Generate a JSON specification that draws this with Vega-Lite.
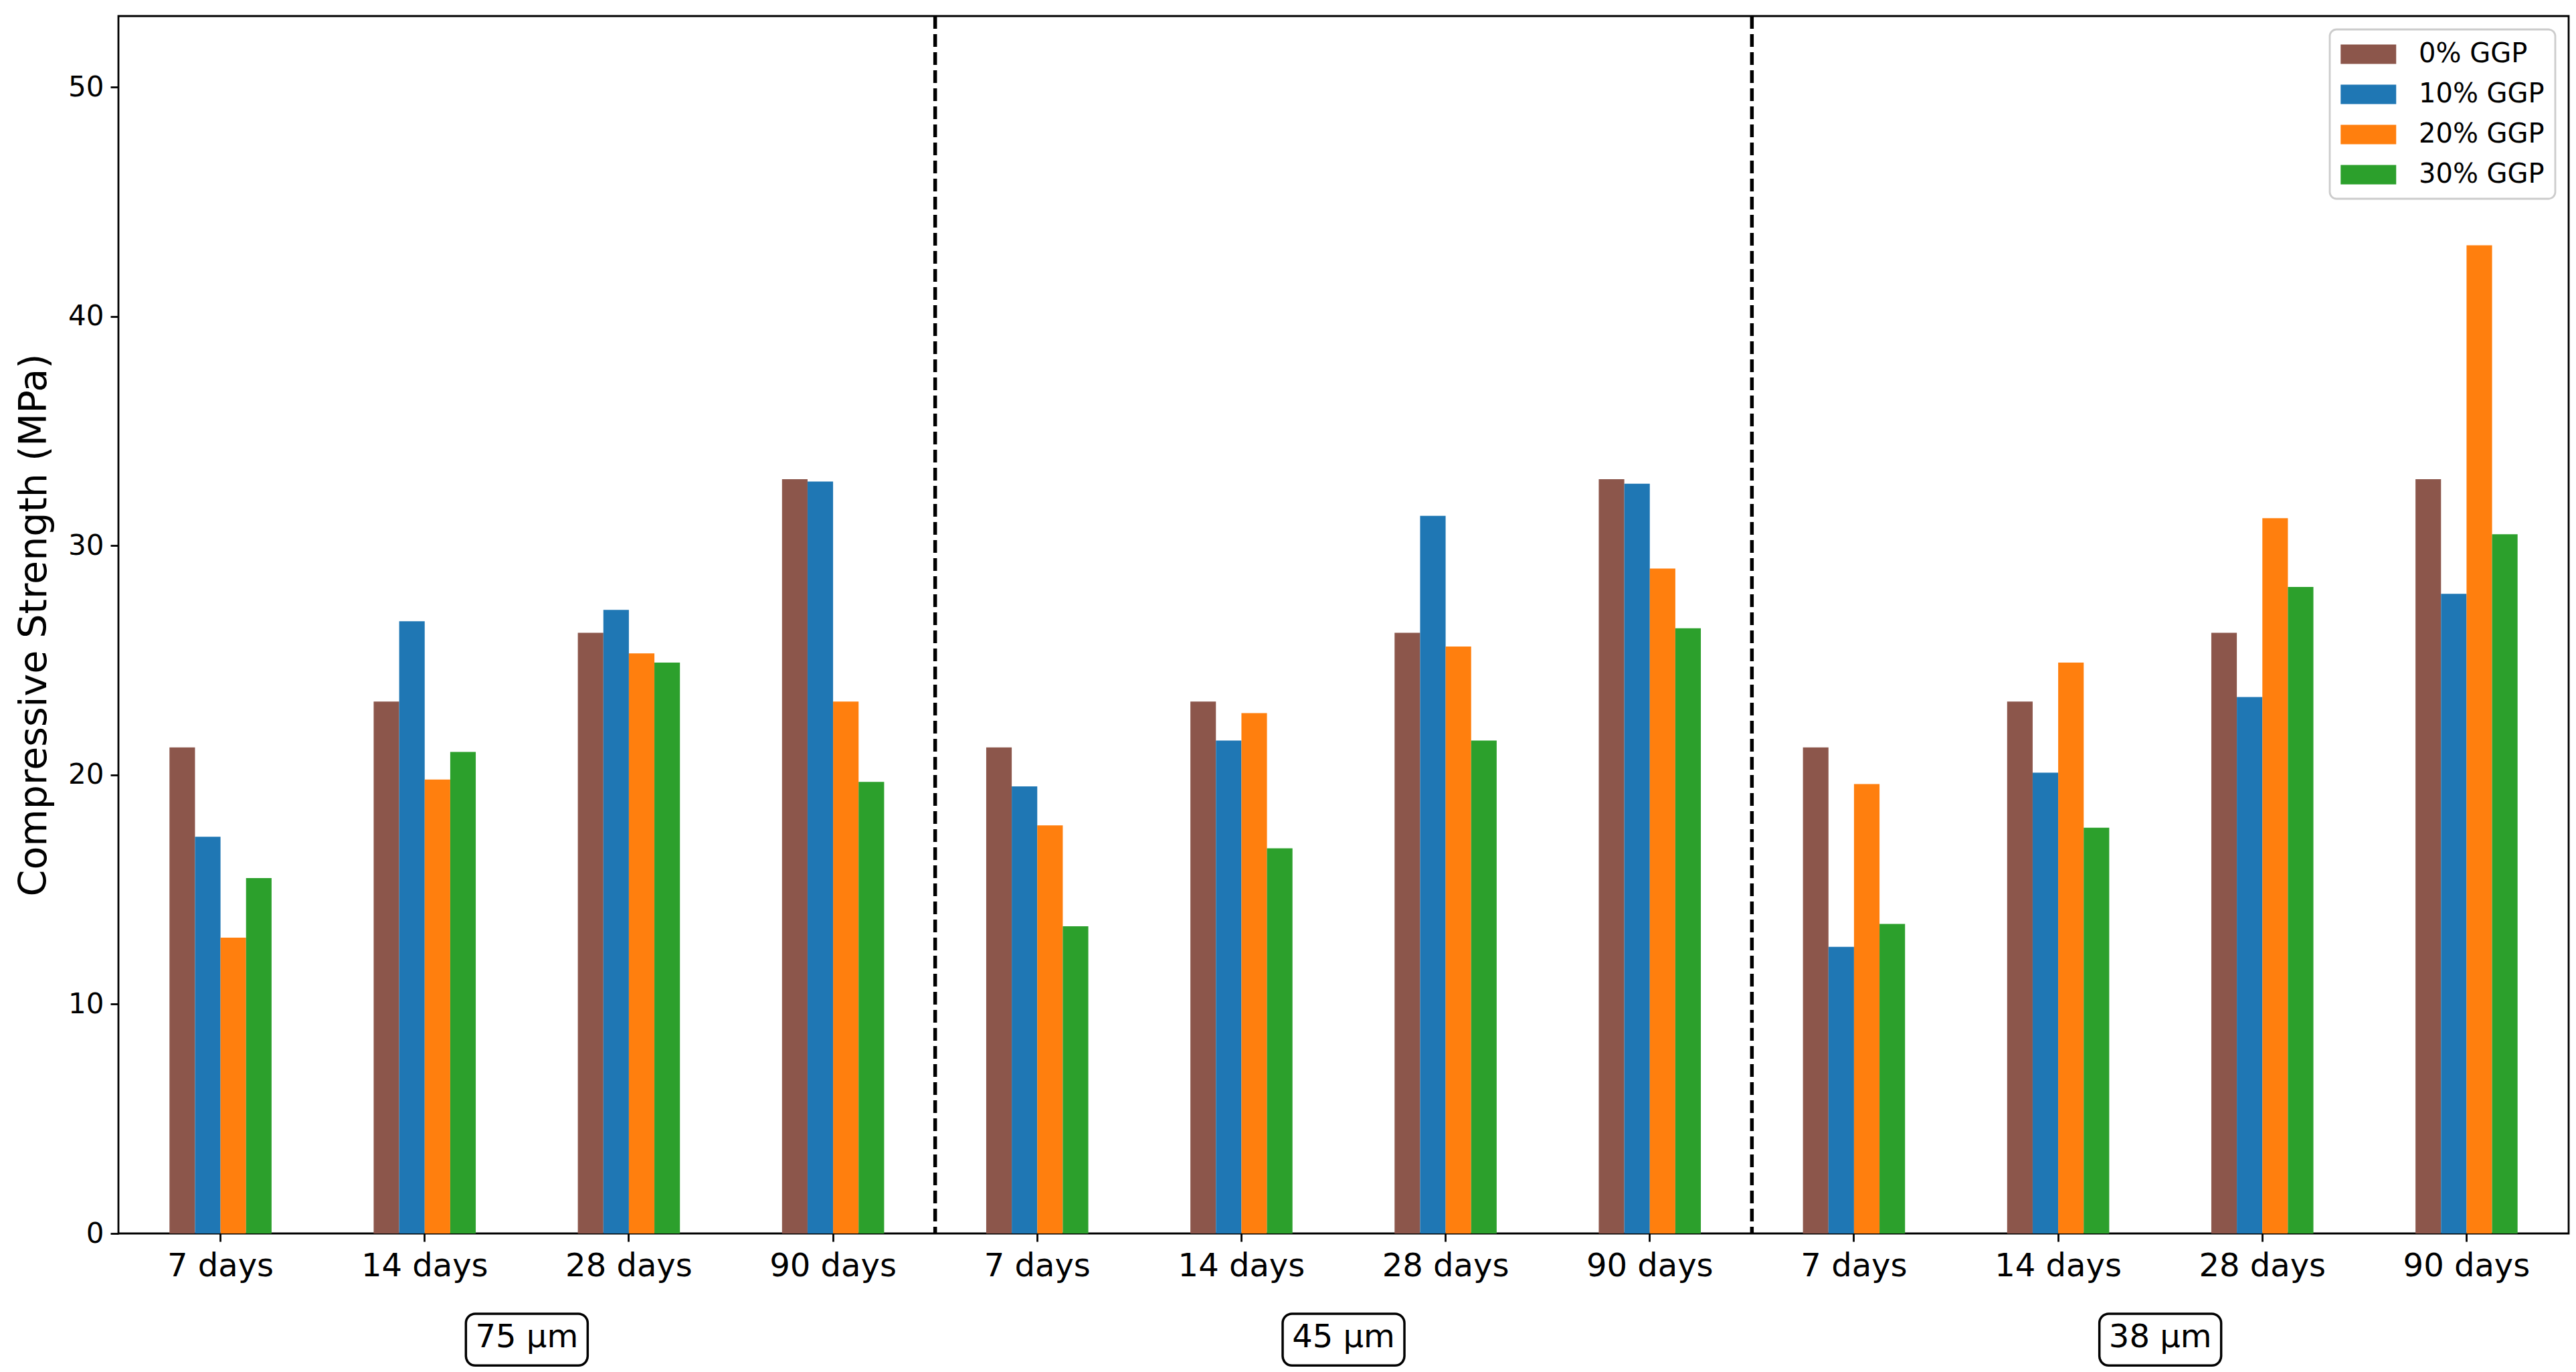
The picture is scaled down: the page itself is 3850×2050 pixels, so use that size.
{
  "$schema": "https://vega.github.io/schema/vega-lite/v6.json",
  "autosize": {"type": "none"},
  "width": 3662,
  "height": 1819,
  "padding": {"left": 177, "top": 24, "right": 11, "bottom": 207},
  "background": "white",
  "datasets": {
    "strength": [
      {"size": "75 µm", "age": "7 days", "ggp": "0% GGP", "strength": 21.2},
      {"size": "75 µm", "age": "7 days", "ggp": "10% GGP", "strength": 17.3},
      {"size": "75 µm", "age": "7 days", "ggp": "20% GGP", "strength": 12.9},
      {"size": "75 µm", "age": "7 days", "ggp": "30% GGP", "strength": 15.5},
      {"size": "75 µm", "age": "14 days", "ggp": "0% GGP", "strength": 23.2},
      {"size": "75 µm", "age": "14 days", "ggp": "10% GGP", "strength": 26.7},
      {"size": "75 µm", "age": "14 days", "ggp": "20% GGP", "strength": 19.8},
      {"size": "75 µm", "age": "14 days", "ggp": "30% GGP", "strength": 21.0},
      {"size": "75 µm", "age": "28 days", "ggp": "0% GGP", "strength": 26.2},
      {"size": "75 µm", "age": "28 days", "ggp": "10% GGP", "strength": 27.2},
      {"size": "75 µm", "age": "28 days", "ggp": "20% GGP", "strength": 25.3},
      {"size": "75 µm", "age": "28 days", "ggp": "30% GGP", "strength": 24.9},
      {"size": "75 µm", "age": "90 days", "ggp": "0% GGP", "strength": 32.9},
      {"size": "75 µm", "age": "90 days", "ggp": "10% GGP", "strength": 32.8},
      {"size": "75 µm", "age": "90 days", "ggp": "20% GGP", "strength": 23.2},
      {"size": "75 µm", "age": "90 days", "ggp": "30% GGP", "strength": 19.7},
      {"size": "45 µm", "age": "7 days", "ggp": "0% GGP", "strength": 21.2},
      {"size": "45 µm", "age": "7 days", "ggp": "10% GGP", "strength": 19.5},
      {"size": "45 µm", "age": "7 days", "ggp": "20% GGP", "strength": 17.8},
      {"size": "45 µm", "age": "7 days", "ggp": "30% GGP", "strength": 13.4},
      {"size": "45 µm", "age": "14 days", "ggp": "0% GGP", "strength": 23.2},
      {"size": "45 µm", "age": "14 days", "ggp": "10% GGP", "strength": 21.5},
      {"size": "45 µm", "age": "14 days", "ggp": "20% GGP", "strength": 22.7},
      {"size": "45 µm", "age": "14 days", "ggp": "30% GGP", "strength": 16.8},
      {"size": "45 µm", "age": "28 days", "ggp": "0% GGP", "strength": 26.2},
      {"size": "45 µm", "age": "28 days", "ggp": "10% GGP", "strength": 31.3},
      {"size": "45 µm", "age": "28 days", "ggp": "20% GGP", "strength": 25.6},
      {"size": "45 µm", "age": "28 days", "ggp": "30% GGP", "strength": 21.5},
      {"size": "45 µm", "age": "90 days", "ggp": "0% GGP", "strength": 32.9},
      {"size": "45 µm", "age": "90 days", "ggp": "10% GGP", "strength": 32.7},
      {"size": "45 µm", "age": "90 days", "ggp": "20% GGP", "strength": 29.0},
      {"size": "45 µm", "age": "90 days", "ggp": "30% GGP", "strength": 26.4},
      {"size": "38 µm", "age": "7 days", "ggp": "0% GGP", "strength": 21.2},
      {"size": "38 µm", "age": "7 days", "ggp": "10% GGP", "strength": 12.5},
      {"size": "38 µm", "age": "7 days", "ggp": "20% GGP", "strength": 19.6},
      {"size": "38 µm", "age": "7 days", "ggp": "30% GGP", "strength": 13.5},
      {"size": "38 µm", "age": "14 days", "ggp": "0% GGP", "strength": 23.2},
      {"size": "38 µm", "age": "14 days", "ggp": "10% GGP", "strength": 20.1},
      {"size": "38 µm", "age": "14 days", "ggp": "20% GGP", "strength": 24.9},
      {"size": "38 µm", "age": "14 days", "ggp": "30% GGP", "strength": 17.7},
      {"size": "38 µm", "age": "28 days", "ggp": "0% GGP", "strength": 26.2},
      {"size": "38 µm", "age": "28 days", "ggp": "10% GGP", "strength": 23.4},
      {"size": "38 µm", "age": "28 days", "ggp": "20% GGP", "strength": 31.2},
      {"size": "38 µm", "age": "28 days", "ggp": "30% GGP", "strength": 28.2},
      {"size": "38 µm", "age": "90 days", "ggp": "0% GGP", "strength": 32.9},
      {"size": "38 µm", "age": "90 days", "ggp": "10% GGP", "strength": 27.9},
      {"size": "38 µm", "age": "90 days", "ggp": "20% GGP", "strength": 43.1},
      {"size": "38 µm", "age": "90 days", "ggp": "30% GGP", "strength": 30.5}
    ],
    "sizes": [
      {"size": "75 µm"},
      {"size": "45 µm"},
      {"size": "38 µm"}
    ]
  },
  "layer": [
    {
      "data": {"name": "strength"},
      "transform": [{"calculate": "datum.size + '|' + datum.age", "as": "slot"}],
      "mark": {"type": "bar"},
      "encoding": {
        "x": {
          "field": "slot",
          "type": "nominal",
          "sort": [
            "75 µm|7 days", "75 µm|14 days", "75 µm|28 days", "75 µm|90 days",
            "45 µm|7 days", "45 µm|14 days", "45 µm|28 days", "45 µm|90 days",
            "38 µm|7 days", "38 µm|14 days", "38 µm|28 days", "38 µm|90 days"
          ],
          "scale": {"paddingInner": 0.5, "paddingOuter": 0.25},
          "title": null,
          "axis": {
            "labelExpr": "split(datum.label, '|')[1]",
            "labelAngle": 0,
            "labelFontSize": 48,
            "labelLimit": 500,
            "bandPosition": 0.5,
            "labelPadding": 13
          }
        },
        "xOffset": {
          "field": "ggp",
          "type": "nominal",
          "sort": ["0% GGP", "10% GGP", "20% GGP", "30% GGP"],
          "scale": {"paddingInner": 0, "paddingOuter": 0}
        },
        "y": {
          "field": "strength",
          "type": "quantitative",
          "scale": {"domain": [0, 53.1], "nice": false},
          "title": "Compressive Strength (MPa)",
          "axis": {
            "values": [0, 10, 20, 30, 40, 50],
            "labelFontSize": 42,
            "titleFontSize": 57,
            "titlePadding": 21
          }
        },
        "color": {
          "field": "ggp",
          "type": "nominal",
          "sort": ["0% GGP", "10% GGP", "20% GGP", "30% GGP"],
          "scale": {
            "domain": ["0% GGP", "10% GGP", "20% GGP", "30% GGP"],
            "range": ["#8c564b", "#1f77b4", "#ff7f0e", "#2ca02c"]
          },
          "legend": {"title": null}
        }
      }
    },
    {
      "data": {"name": "sizes"},
      "transform": [{"filter": "datum.size != '75 µm'"}],
      "mark": {"type": "rule", "color": "black", "strokeWidth": 5.5, "strokeDash": [19, 8]},
      "encoding": {
        "x": {
          "field": "size",
          "type": "nominal",
          "sort": ["75 µm", "45 µm", "38 µm"],
          "scale": {"domain": ["75 µm", "45 µm", "38 µm"], "paddingInner": 0, "paddingOuter": 0},
          "bandPosition": 0,
          "axis": null
        }
      }
    },
    {
      "data": {"name": "sizes"},
      "mark": {"type": "rect", "width": 182, "cornerRadius": 14, "fill": "white", "stroke": "black", "strokeWidth": 3.5},
      "encoding": {
        "x": {
          "field": "size",
          "type": "nominal",
          "sort": ["75 µm", "45 µm", "38 µm"],
          "scale": {"domain": ["75 µm", "45 µm", "38 µm"], "paddingInner": 0, "paddingOuter": 0},
          "axis": null
        },
        "y": {"datum": -3.5},
        "y2": {"datum": -5.76}
      }
    },
    {
      "data": {"name": "sizes"},
      "mark": {"type": "text", "fontSize": 48, "font": "DejaVu Sans", "baseline": "middle", "align": "center", "color": "black"},
      "encoding": {
        "x": {
          "field": "size",
          "type": "nominal",
          "sort": ["75 µm", "45 µm", "38 µm"],
          "scale": {"domain": ["75 µm", "45 µm", "38 µm"], "paddingInner": 0, "paddingOuter": 0},
          "bandPosition": 0.5,
          "axis": null
        },
        "y": {"datum": -4.56},
        "text": {"field": "size"}
      }
    }
  ],
  "resolve": {"scale": {"x": "independent", "xOffset": "independent"}},
  "config": {
    "font": "DejaVu Sans",
    "view": {"stroke": "black", "strokeWidth": 2.8},
    "axis": {
      "labelFont": "DejaVu Sans",
      "titleFont": "DejaVu Sans",
      "labelColor": "black",
      "titleColor": "black",
      "titleFontWeight": "normal",
      "domain": false,
      "grid": false,
      "tickColor": "black",
      "tickWidth": 2.8,
      "tickSize": 12,
      "labelPadding": 10
    },
    "legend": {
      "orient": "top-right",
      "offset": 20,
      "padding": 16,
      "labelFont": "DejaVu Sans",
      "labelFontSize": 40,
      "labelColor": "black",
      "labelLimit": 400,
      "labelOffset": 75,
      "rowPadding": 19,
      "symbolType": "M-1,-0.7H3V0.7H-1Z",
      "symbolSize": 1722,
      "symbolStrokeWidth": 0,
      "symbolOpacity": 1,
      "strokeColor": "#cccccc",
      "strokeWidth": 2.8,
      "cornerRadius": 10,
      "fillColor": "rgba(255,255,255,0.8)"
    }
  }
}
